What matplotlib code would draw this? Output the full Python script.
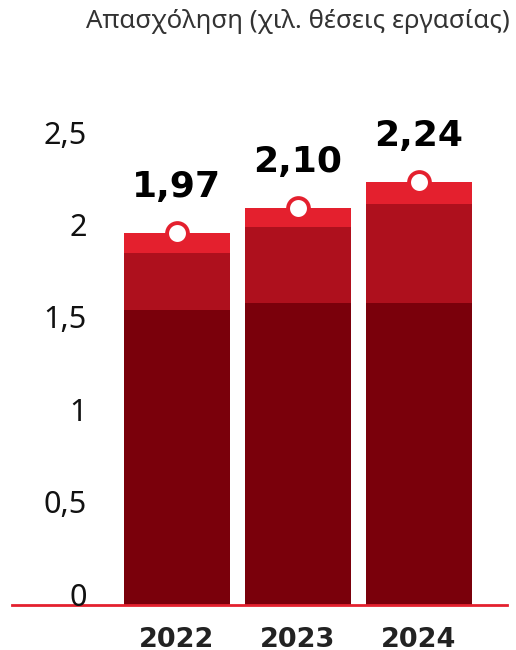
import numpy as np
import matplotlib.pyplot as plt

# data
years = ['2022', '2023', '2024']
seg_low = [1.56, 1.60, 1.60]
seg_mid = [0.30, 0.40, 0.52]
seg_top = [0.11, 0.10, 0.12]
y_ticks = [0, 0.5, 1, 1.5, 2, 2.5]
title = 'Απασχόληση (χιλ. θέσεις εργασίας)'

c_low = '#7a000b'
c_mid = '#ae101d'
c_top = '#e4202e'

W, H = 516, 650
fig = plt.figure(figsize=(W / 100, H / 100), dpi=100)

# axes placed in pixel terms: left 95, right 511, baseline at y=605, top at y=100
L, R, B, T = 95, 511, 45, 550
ax = fig.add_axes([L / W, B / H, (R - L) / W, (T - B) / H])

px_per_unit = 189.0
step = 121.0
x = np.arange(len(years))
ax.set_xlim(-(177 - L) / step, (R - 177) / step)
ax.set_ylim(0, (T - B) / px_per_unit)

low = np.array(seg_low)
mid = np.array(seg_mid)
top = np.array(seg_top)
total = low + mid + top
bw = 106 / step

ax.bar(x, low, width=bw, color=c_low, zorder=2)
ax.bar(x, mid, bottom=low, width=bw, color=c_mid, zorder=2)
ax.bar(x, top, bottom=low + mid, width=bw, color=c_top, zorder=2)

ax.plot(x, total, 'o', ms=15, mfc='white', mec=c_top, mew=2.8,
        linestyle='none', zorder=4, clip_on=False)

for xi, t in zip(x, total):
    ax.annotate(f'{t:.2f}'.replace('.', ','), (xi, t), xytext=(0, 33),
                textcoords='offset points', ha='center', va='center',
                fontsize=26, fontweight='bold', color='black',
                family='DejaVu Sans', annotation_clip=False)

# red baseline across the figure
ax.axhline(0, xmin=-(L - 12) / (R - L), xmax=(507 - L) / (R - L),
           color=c_top, lw=2, clip_on=False, zorder=5)

for s in ax.spines.values():
    s.set_visible(False)

# value axis labels sit a bit above their gridline positions in the original
ax.set_yticks([])
ay = ax.twinx()
ay.set_position(ax.get_position())
tick_px = 184.8
ay.set_ylim(-11 / tick_px, -11 / tick_px + (T - B) / tick_px)
ay.yaxis.set_ticks_position('left')
ay.set_yticks(y_ticks)
ay.set_yticklabels([f'{v:g}'.replace('.', ',') for v in y_ticks],
                   fontsize=22, color='#111111', family='Noto Sans')
ay.tick_params(axis='y', length=0, pad=6)
for s in ay.spines.values():
    s.set_visible(False)

ax.set_xticks(x)
ax.set_xticklabels(years, fontsize=19.5, fontweight='bold', color='#222222',
                   family='DejaVu Sans')
ax.tick_params(axis='x', length=0, pad=16)

fig.text(510 / W, 1 - 22 / H, title, ha='right', va='center',
         fontsize=18.6, color='#333333', family='Noto Sans')

fig.savefig('out.png', dpi=100)
